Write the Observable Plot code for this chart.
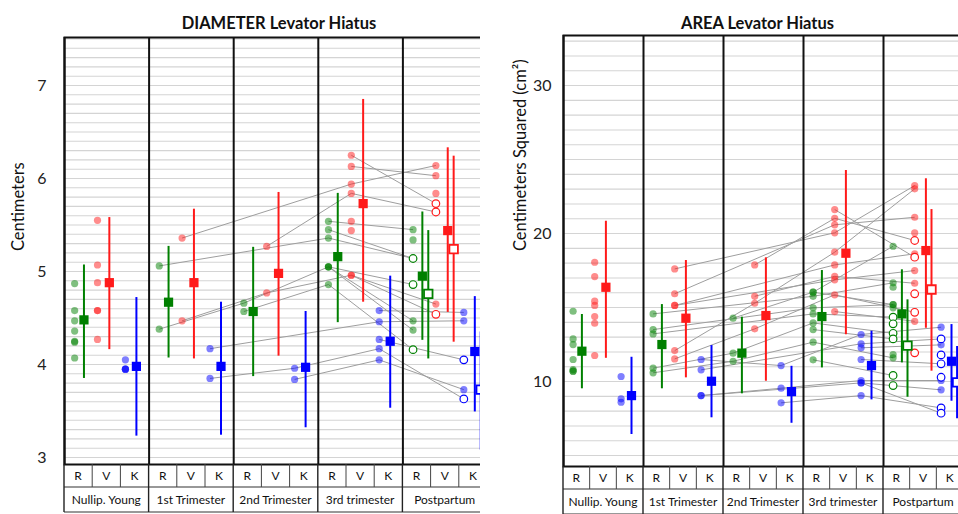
<!DOCTYPE html>
<html><head><meta charset="utf-8">
<script src="https://cdn.jsdelivr.net/npm/d3@7"></script>
<script src="https://cdn.jsdelivr.net/npm/@observablehq/plot@0.6"></script>
<style>
html,body{margin:0;padding:0;background:#fff;overflow:hidden;width:958px;height:514px;}
#wrap{position:relative;width:958px;height:514px;overflow:hidden;background:#fff;}
#left{position:absolute;top:0;left:0;width:495px;height:514px;}
#right{position:absolute;top:0;left:480px;width:490px;height:514px;}
svg{max-width:none !important;}
</style></head><body><div id="wrap"><div id="left"></div><div id="right"></div></div>
<script>
const groups = ["Nullip. Young","1st Trimester","2nd Trimester","3rd trimester","Postpartum"];
const subs = ["R","V","K"];

// ---------- DIAMETER (cm) ----------
const diamTicks = [3,4,5,6,7];
const diamNullipR = [4.87,4.58,4.47,4.36,4.25,4.24,4.07];
const diamNullipV = [5.55,5.07,4.88,4.58,4.58,4.27];
const diamNullipK = [4.05,3.95,3.95,3.95];
// subjects followed: [1st, 2nd, 3rd, postpartum, postpartum open flag]
const diamSubjR = [
 [5.06,null,5.36,5.14,1],
 [4.38,4.66,5.05,4.86,1],
 [null,4.57,4.86,4.16,1],
 [null,null,5.54,5.45,0],
 [null,null,5.45,5.14,0],
 [null,null,5.05,4.47,0],
 [null,null,5.05,4.37,0],
 [null,null,null,5.34,0]];
const diamSubjV = [
 [5.36,null,5.94,6.14,0],
 [null,5.27,5.84,5.64,1],
 [4.47,4.77,4.96,4.65,0],
 [null,null,6.25,5.73,1],
 [null,null,6.13,6.03,0],
 [null,null,4.96,4.54,1],
 [null,null,5.54,null,0],
 [null,null,5.44,null,0],
 [null,null,null,5.84,0]];
const diamSubjK = [
 [4.17,null,4.46,4.47,0],
 [3.85,3.96,4.17,3.63,1],
 [null,3.84,4.05,3.73,0],
 [null,null,4.58,4.56,0],
 [null,null,4.27,4.05,1]];
// summaries: [Nullip, 1st, 2nd, 3rd, Postpartum, Postpartum open]
const diamMeanR = [4.48,4.67,4.57,5.16,4.95,4.76];
const diamLoR   = [3.85,4.07,3.87,4.45,4.26,4.06];
const diamHiR   = [5.07,5.27,5.26,5.84,5.64,5.44];
const diamMeanV = [4.88,4.88,4.98,5.73,5.44,5.24];
const diamLoV   = [4.16,4.06,4.09,4.67,4.56,4.24];
const diamHiV   = [5.58,5.67,5.85,6.85,6.33,6.24];
const diamMeanK = [3.98,3.98,3.97,4.25,4.14,3.73];
const diamLoK   = [3.23,3.24,3.32,3.53,3.49,3.08];
const diamHiK   = [4.72,4.67,4.57,4.95,4.73,4.35];

// ---------- AREA (cm²) ----------
const areaTicks = [10,20,30];
const areaNullipR = [14.75,12.88,12.5,11.49,10.81,10.7,10.7];
const areaNullipV = [18.06,17.09,15.43,15.14,14.39,13.94,11.76];
const areaNullipK = [10.34,8.83,8.6];
const areaSubjR = [
 [14.57,null,15.76,16.67,0],
 [13.51,null,14.98,15.2,0],
 [13.22,null,14.57,14.35,1],
 [10.9,11.92,13.96,13.26,1],
 [10.59,11.37,12.66,11.6,0],
 [null,14.28,16.04,19.14,0],
 [null,null,16.04,15.2,0],
 [null,null,13.51,12.88,1],
 [null,null,11.47,10.41,1],
 [null,null,null,16.37,0],
 [null,null,null,14.98,0],
 [null,null,null,11.82,0],
 [null,null,null,13.9,1],
 [null,null,null,9.73,1]];
const areaSubjV = [
 [17.61,null,20.05,23.24,0],
 [15.93,null,20.59,21.1,0],
 [15.14,null,17.88,18.63,0],
 [15.14,null,16.87,17.5,0],
 [12.09,15.29,18.74,23.02,0],
 [11.53,13.56,15.86,14.68,1],
 [null,17.88,21.03,19.53,1],
 [null,15.76,17.11,16.64,0],
 [null,null,21.62,18.4,1],
 [null,null,14.73,14.07,0],
 [null,null,null,20.05,0],
 [null,null,null,14.73,0],
 [null,null,null,15.93,1],
 [null,null,null,11.94,1]];
const areaSubjK = [
 [11.49,11.08,13.18,13.67,0],
 [10.79,null,12.55,12.88,1],
 [9.05,9.55,10.07,10.07,0],
 [9.05,null,9.91,9.44,0],
 [null,8.56,9.05,8.22,1],
 [null,null,12.28,12.48,0],
 [null,null,11.49,11.2,1],
 [null,null,9.91,7.86,1],
 [null,null,null,11.8,1],
 [null,null,null,10.29,1]];
const areaMeanR = [12.05,12.5,11.92,14.39,14.57,12.43];
const areaLoR   = [9.51,9.51,9.17,10.92,11.26,8.94];
const areaHiR   = [14.53,15.2,14.35,17.5,17.55,15.52];
const areaMeanV = [16.37,14.28,14.46,18.67,18.85,16.22];
const areaLoV   = [11.57,10.25,10.02,13.16,13.6,10.7];
const areaHiV   = [20.83,18.18,18.36,24.26,23.7,21.62];
const areaMeanK = [9.05,10.02,9.32,11.08,11.37,9.95];
const areaLoK   = [6.42,7.55,7.18,8.76,8.67,7.48];
const areaHiK   = [11.64,12.43,11.03,13.4,13.85,12.36];

// ---------- styling / layout ----------
const FONT = "Lato, 'Open Sans', sans-serif";
const colors = {R:"#008000", V:"#ff1a1a", K:"#0000ff"};
const dotOff = {R:0.12, V:0.39, K:0.72};
const meanOff = {R:0.23, V:0.53, K:0.85};
const openShift = 0.07;

function buildPanel(P){
  const dots=[], links=[], stats=[];
  subs.forEach(s=>{
    P.nullip[s].forEach(v=>dots.push({x:dotOff[s], y:v, c:colors[s], open:false}));
    P.subj[s].forEach(row=>{
      let prev=null;
      for(let i=0;i<4;i++){
        const v=row[i]; if(v==null) continue;
        const pt={x:i+1+dotOff[s], y:v, c:colors[s], open:(i===3 && row[4]===1)};
        dots.push(pt);
        if(prev) links.push({x1:prev.x,y1:prev.y,x2:pt.x,y2:pt.y});
        prev=pt;
      }
    });
    for(let k=0;k<6;k++){
      stats.push({x:Math.min(k,4)+meanOff[s]+(k===5?openShift:0), y:P.mean[s][k], lo:P.lo[s][k], hi:P.hi[s][k], c:colors[s], open:k===5});
    }
  });
  return {dots,links,stats};
}

function draw(P, L, el){
  const {dots,links,stats}=buildPanel(P);
  const plot = Plot.plot({
    width:L.width, height:514,
    marginLeft:L.ml, marginRight:L.mr, marginTop:L.mt, marginBottom:L.mb,
    x:{domain:[0,5], axis:null},
    y:{domain:L.ydomain, axis:null},
    color:{type:"identity"},
    style:{fontFamily:FONT, background:"white", overflow:"visible"},
    marks:[
      Plot.ruleY(L.grid, {stroke:"#d4d4d4", strokeWidth:1.1}),
      Plot.link(links, {x1:"x1",y1:"y1",x2:"x2",y2:"y2", stroke:"#9e9e9e", strokeWidth:1}),
      Plot.dot(dots.filter(d=>!d.open), {x:"x",y:"y", r:3.6, fill:"c", fillOpacity:0.5}),
      Plot.dot(dots.filter(d=>d.open), {x:"x",y:"y", r:3.8, fill:"white", stroke:"c", strokeWidth:1.2}),
      Plot.ruleX(stats, {x:"x", y1:"lo", y2:"hi", stroke:"c", strokeWidth:2}),
      Plot.dot(stats.filter(d=>!d.open), {x:"x",y:"y", symbol:"square", r:5.2, fill:"c"}),
      Plot.dot(stats.filter(d=>d.open), {x:"x",y:"y", symbol:"square", r:4.8, fill:"white", stroke:"c", strokeWidth:1.8}),
      Plot.ruleX(d3.range(0,6), {stroke:"#111", strokeWidth:2}),
      Plot.frame({stroke:"#111", strokeWidth:2}),
      Plot.axisY(P.ticks, {tickSize:0, tickPadding:L.tp, fontSize:16, label:null, fill:"#222", tickFormat:d=>String(d)}),
      Plot.text([P.ylabel], {frameAnchor:"left", rotate:-90, dx:-L.ylab, fontSize:16.5, fill:"#111"}),
      Plot.text([P.title], {frameAnchor:"top", dy:L.tdy, dx:L.tdx, fontSize:16.5, fontWeight:"bold", fill:"#111"})
    ]
  });
  // category table under the frame, positioned with Plot's x scale
  const sx = plot.scale("x");
  const fx = d3.scaleLinear(sx.domain, sx.range);
  const top = 514 - L.mb, mid = top + 23, bot = top + 48;
  const g = d3.select(plot).append("g").attr("font-family",FONT).attr("font-size",12).attr("fill","#111");
  [mid,bot].forEach(y=>g.append("line").attr("x1",fx(0)).attr("x2",fx(5)).attr("y1",y).attr("y2",y).attr("stroke","#333").attr("stroke-width",1.2));
  groups.forEach((name,gi)=>{
    for(let k=1;k<3;k++){
      const x=fx(gi+k/3);
      g.append("line").attr("x1",x).attr("x2",x).attr("y1",top).attr("y2",mid).attr("stroke","#444").attr("stroke-width",1);
    }
    subs.forEach((s,k)=>g.append("text").attr("x",fx(gi+(k+0.5)/3)).attr("y",(top+mid)/2).attr("dy","0.36em").attr("text-anchor","middle").text(s));
    g.append("text").attr("x",fx(gi+0.5)).attr("y",(mid+bot)/2).attr("dy","0.36em").attr("text-anchor","middle").text(name);
  });
  for(let gi=0;gi<=5;gi++){
    const x=fx(gi);
    g.append("line").attr("x1",x).attr("x2",x).attr("y1",top).attr("y2",bot).attr("stroke","#222").attr("stroke-width",1.4);
  }
  document.getElementById(el).appendChild(plot);
}

draw({
  title:"DIAMETER Levator Hiatus", ylabel:"Centimeters", ticks:diamTicks,
  nullip:{R:diamNullipR,V:diamNullipV,K:diamNullipK},
  subj:{R:diamSubjR,V:diamSubjV,K:diamSubjK},
  mean:{R:diamMeanR,V:diamMeanV,K:diamMeanK},
  lo:{R:diamLoR,V:diamLoV,K:diamLoK},
  hi:{R:diamHiR,V:diamHiV,K:diamHiK}
},{
  width:495, ml:64, mr:8, mt:37, mb:50, ydomain:[2.925,7.516],
  grid:d3.range(30,76).map(v=>v/10), tp:18, ylab:46, tdx:3, tdy:-20
},"left");

draw({
  title:"AREA Levator Hiatus", ylabel:"Centimeters Squared (cm²)", ticks:areaTicks,
  nullip:{R:areaNullipR,V:areaNullipV,K:areaNullipK},
  subj:{R:areaSubjR,V:areaSubjV,K:areaSubjK},
  mean:{R:areaMeanR,V:areaMeanV,K:areaMeanK},
  lo:{R:areaLoR,V:areaLoV,K:areaLoK},
  hi:{R:areaHiR,V:areaHiV,K:areaHiK}
},{
  width:490, ml:83, mr:7, mt:35, mb:48, ydomain:[4.26,33.38],
  grid:d3.range(5,34), tp:12, ylab:43, tdx:-6, tdy:-18
},"right");
</script></body></html>
